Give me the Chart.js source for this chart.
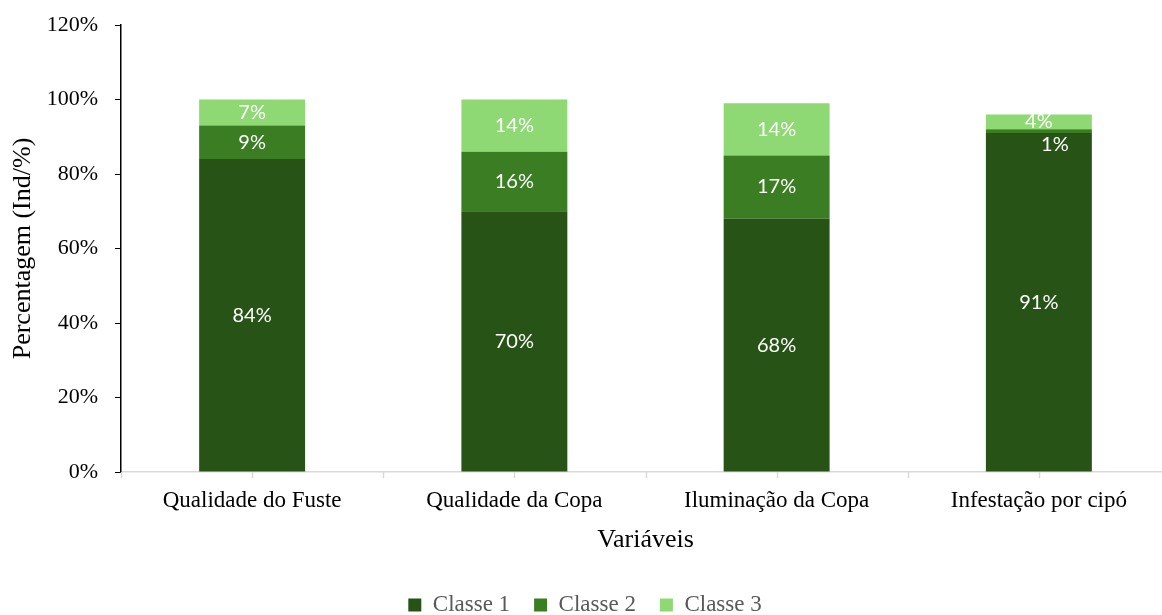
<!DOCTYPE html>
<html>
<head>
<meta charset="utf-8">
<script src="https://cdn.jsdelivr.net/npm/chart.js@4"></script>
<style>
  html, body { margin: 0; padding: 0; background: #ffffff; overflow: hidden; }
  #wrap { width: 1170px; height: 615px; position: relative; }
</style>
</head>
<body>
<div id="wrap"><canvas id="stacked_chart"></canvas></div>
<script>
const categories = ["Qualidade do Fuste", "Qualidade da Copa", "Iluminação da Copa", "Infestação por cipó"];
const classe_1 = [84, 70, 68, 91];
const classe_2 = [9, 16, 17, 1];
const classe_3 = [7, 14, 14, 4];
const y_ticks = [0, 20, 40, 60, 80, 100, 120];

const serif = "'Liberation Serif', 'Times New Roman', serif";

// hand-placed label offsets (dataset index -> category index -> [dx, dy])
const label_offsets = { 1: { 3: [16, 13] } };

const segment_labels = {
    id: "segment_labels",
    afterDatasetsDraw(chart)
    {
        const ctx = chart.ctx;
        ctx.save();
        ctx.font = "20px Lato, 'Open Sans', sans-serif";
        ctx.fillStyle = "#ffffff";
        ctx.textAlign = "center";
        ctx.textBaseline = "middle";
        chart.data.datasets.forEach((ds, di) =>
        {
            chart.getDatasetMeta(di).data.forEach((bar, i) =>
            {
                const off = (label_offsets[di] && label_offsets[di][i]) || [0, 0];
                const cy = (bar.y + bar.base) / 2;
                ctx.fillText(ds.data[i] + "%", bar.x + off[0], cy + off[1]);
            });
        });
        ctx.restore();
    }
};

const half_ticks = {
    id: "half_ticks",
    afterDraw(chart)
    {
        const x = chart.scales.x;
        const y0 = chart.scales.y.getPixelForValue(0);
        const step = (x.getPixelForValue(1) - x.getPixelForValue(0)) / 2;
        const ctx = chart.ctx;
        ctx.save();
        ctx.strokeStyle = "#d9d9d9";
        ctx.lineWidth = 1.5;
        for (let k = 0; k <= categories.length * 2; k++)
        {
            const px = Math.round(x.getPixelForValue(0) - step + k * step) + 0.5;
            ctx.beginPath();
            ctx.moveTo(px, y0);
            ctx.lineTo(px, y0 + 6);
            ctx.stroke();
        }
        ctx.restore();
    }
};

new Chart("stacked_chart",
{
    type: "bar",
    data:
    {
        labels: categories,
        datasets:
        [
            { label: "Classe 1", data: classe_1, backgroundColor: "#275317" },
            { label: "Classe 2", data: classe_2, backgroundColor: "#3a7d22" },
            { label: "Classe 3", data: classe_3, backgroundColor: "#8ed973" }
        ]
    },
    options:
    {
        animation: false,
        responsive: true,
        maintainAspectRatio: false,
        datasets: { bar: { barPercentage: 0.404, categoryPercentage: 1 } },
        layout: { padding: { left: 0, top: 25, right: 0, bottom: -11.5 } },
        plugins:
        {
            tooltip: { enabled: false },
            legend:
            {
                position: "bottom",
                labels:
                {
                    font: { family: serif, size: 23 },
                    color: "#595959",
                    boxWidth: 13,
                    boxHeight: 13,
                    padding: 24
                }
            }
        },
        scales:
        {
            x:
            {
                stacked: true,
                grid: { display: false },
                border: { color: "#d9d9d9", width: 1.5 },
                ticks: { color: "#000000", font: { family: serif, size: 23 }, padding: 7, maxRotation: 0 },
                title:
                {
                    display: true,
                    text: "Variáveis",
                    color: "#000000",
                    font: { family: serif, size: 26 },
                    padding: { top: 0, bottom: 14 }
                },
                afterFit(scale)
                {
                    scale.height = 97.5;
                    scale.paddingLeft = 0;
                    scale.paddingRight = 0;
                }
            },
            y:
            {
                stacked: true,
                min: 0,
                max: 120,
                afterBuildTicks(axis) { axis.ticks = y_ticks.map(v => ({ value: v })); },
                grid: { drawOnChartArea: false, color: "#000000", tickLength: 6 },
                border: { color: "#000000", width: 1.5 },
                ticks:
                {
                    color: "#000000",
                    font: { family: serif, size: 22 },
                    padding: 17,
                    callback: v => v + "%"
                },
                title:
                {
                    display: true,
                    text: "Percentagem (Ind/%)",
                    color: "#000000",
                    font: { family: serif, size: 26, lineHeight: 1 },
                    padding: { top: 10, bottom: 0 }
                },
                afterFit(scale)
                {
                    scale.width = 121;
                    scale.paddingTop = 0;
                    scale.paddingBottom = 0;
                }
            }
        }
    },
    plugins: [segment_labels, half_ticks]
});
</script>
</body>
</html>
